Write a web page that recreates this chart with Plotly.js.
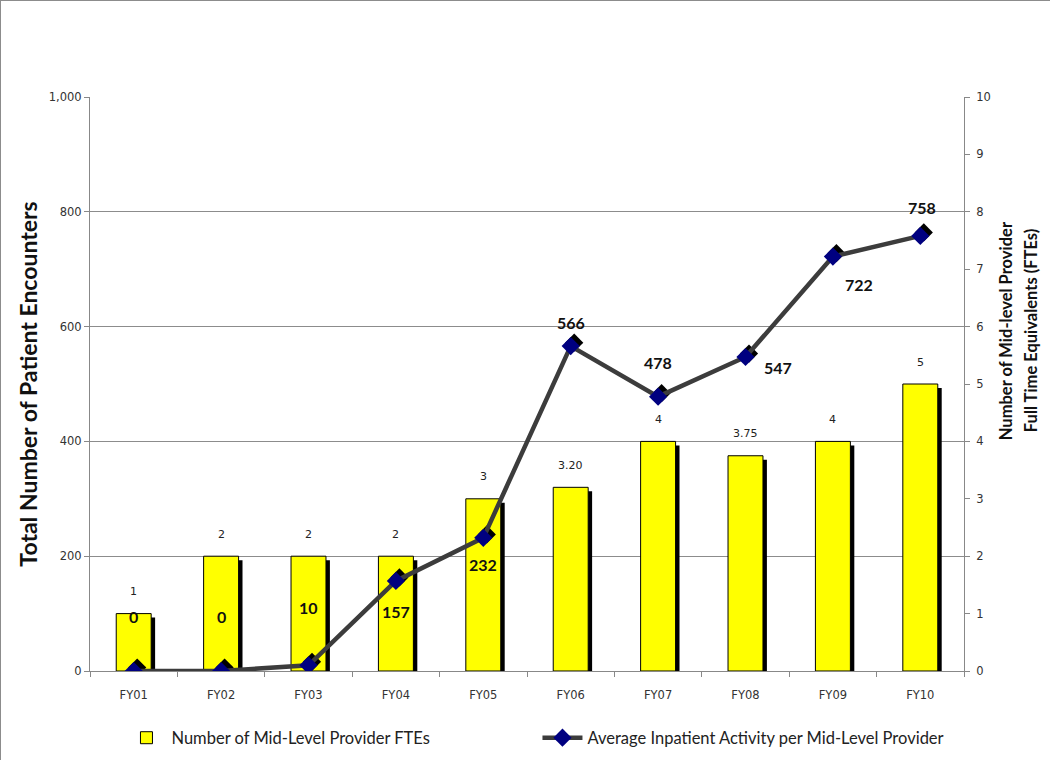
<!DOCTYPE html>
<html>
<head>
<meta charset="utf-8">
<script src="https://cdn.plot.ly/plotly-3.0.1.min.js"></script>
<style>
html,body{margin:0;padding:0;background:#fff;}
#chart{width:1050px;height:760px;box-sizing:border-box;border:1px solid #8c8c8c;}
</style>
</head>
<body>
<div id="chart"></div>
<script>
// ---- data ----
var categories = ["FY01","FY02","FY03","FY04","FY05","FY06","FY07","FY08","FY09","FY10"];
var fteValues = [1, 2, 2, 2, 3, 3.2, 4, 3.75, 4, 5];
var fteLabels = ["1","2","2","2","3","3.20","4","3.75","4","5"];
var activityValues = [0, 0, 10, 157, 232, 566, 478, 547, 722, 758];
var activityLabels = ["0","0","10","157","232","566","478","547","722","758"];
var fteName = "Number of Mid-Level Provider FTEs";
var activityName = "Average Inpatient Activity per Mid-Level Provider";
var leftTitle = "Total Number of Patient Encounters";
var rightTitleLines = ["Number of Mid-level Provider", "Full Time Equivalents (FTEs)"];

// ---- label placement (pixel offsets, style only) ----
var actXShift = [0, 0, 0, 0, 0, 0, 0, 32, 26, 2];
var actYShift = [55, 55, 58, -31, -27, 24, 34, -10, -28, 28];

var tickFont = {family: "DejaVu Sans, Verdana, sans-serif", size: 11.5, color: "#333"};
var titleFont = "Lato, Open Sans, sans-serif";

var traces = [
  { // bar shadow
    type: "bar", x: categories, y: fteValues, base: -0.07,
    xaxis: "x", yaxis: "y", width: 0.4, offset: -0.155,
    marker: {color: "#000", line: {width: 0}},
    showlegend: false, hoverinfo: "skip"
  },
  { // bars
    type: "bar", name: fteName, x: categories, y: fteValues,
    xaxis: "x", yaxis: "y", width: 0.4, offset: -0.2,
    marker: {color: "#ffff00", line: {color: "#000", width: 1}},
    hoverinfo: "skip"
  },
  { // marker shadow
    type: "scatter", mode: "markers", x: categories, y: activityValues,
    xaxis: "x2", yaxis: "y2",
    marker: {symbol: "diamond", size: 14, color: "#000"},
    showlegend: false, hoverinfo: "skip"
  },
  { // line
    type: "scatter", mode: "lines+markers", name: activityName,
    x: categories, y: activityValues, xaxis: "x3", yaxis: "y3",
    line: {color: "#3c3c3c", width: 4.5},
    marker: {symbol: "diamond", size: 14, color: "#000080", line: {width: 0}},
    hoverinfo: "skip"
  }
];

var annotations = [];
categories.forEach(function(c, i) {
  annotations.push({
    x: c, y: fteValues[i], xref: "x", yref: "y", text: fteLabels[i],
    showarrow: false, yshift: 22,
    font: {family: "DejaVu Sans, Verdana, sans-serif", size: 11, color: "#222"}
  });
  annotations.push({
    x: c, y: activityValues[i], xref: "x", yref: "y3", text: activityLabels[i],
    showarrow: false, xshift: actXShift[i], yshift: actYShift[i],
    font: {family: titleFont, size: 16, color: "#111", weight: "bold"}
  });
});
// right axis title (two lines, set as annotations for exact placement)
annotations.push({
  xref: "paper", yref: "paper", x: 1, y: 0.592, xshift: 42, textangle: -90,
  xanchor: "center", yanchor: "middle",
  text: "<b>" + rightTitleLines[0] + "</b>", showarrow: false,
  font: {family: titleFont, size: 16.5, color: "#111"}
});
annotations.push({
  xref: "paper", yref: "paper", x: 1, y: 0.592, xshift: 67, textangle: -90,
  xanchor: "center", yanchor: "middle",
  text: "<b>" + rightTitleLines[1] + "</b>", showarrow: false,
  font: {family: titleFont, size: 16.5, color: "#111"}
});

var layout = {
  width: 1050, height: 760,
  margin: {l: 89, r: 87, t: 96, b: 90, autoexpand: false},
  paper_bgcolor: "#fff", plot_bgcolor: "rgba(0,0,0,0)",
  barmode: "overlay",
  showlegend: true,
  legend: {
    orientation: "h", x: 0.036, xanchor: "left", y: -0.1167, yanchor: "middle",
    font: {family: titleFont, size: 16.5, color: "#222"},
    entrywidth: 361, entrywidthmode: "pixels", itemwidth: 40,
    traceorder: "normal"
  },
  xaxis: {
    type: "category", range: [-0.5, 9.5], tickson: "boundaries",
    ticks: "outside", ticklen: 5, tickcolor: "#888", showline: true, linecolor: "#888",
    showgrid: false, tickfont: tickFont, zeroline: false, fixedrange: true,
    ticklabelstandoff: 13
  },
  xaxis2: {
    type: "category", overlaying: "x", range: [-0.54, 9.46], visible: false, fixedrange: true
  },
  xaxis3: {
    type: "category", overlaying: "x", range: [-0.5, 9.5], visible: false, fixedrange: true
  },
  yaxis: {
    side: "right", range: [0, 10], dtick: 1, showgrid: false, zeroline: false,
    ticks: "outside", ticklen: 5, tickcolor: "#888", showline: true, linecolor: "#888",
    tickfont: tickFont, fixedrange: true, ticklabelstandoff: 4
  },
  yaxis2: {
    overlaying: "y", range: [-6, 994], visible: false, fixedrange: true
  },
  yaxis3: {
    overlaying: "y", side: "left", range: [0, 1000], dtick: 200, tickformat: ",",
    showgrid: true, gridcolor: "#8c8c8c", gridwidth: 1, zeroline: false,
    ticks: "outside", ticklen: 5, tickcolor: "#888", showline: true, linecolor: "#888",
    tickfont: tickFont, fixedrange: true, anchor: "x",
    title: {text: "<b>" + leftTitle + "</b>",
            font: {family: titleFont, size: 23, color: "#111"}, standoff: 4}
  },
  annotations: annotations
};

Plotly.newPlot("chart", traces, layout, {displayModeBar: false, staticPlot: true});
</script>
</body>
</html>
